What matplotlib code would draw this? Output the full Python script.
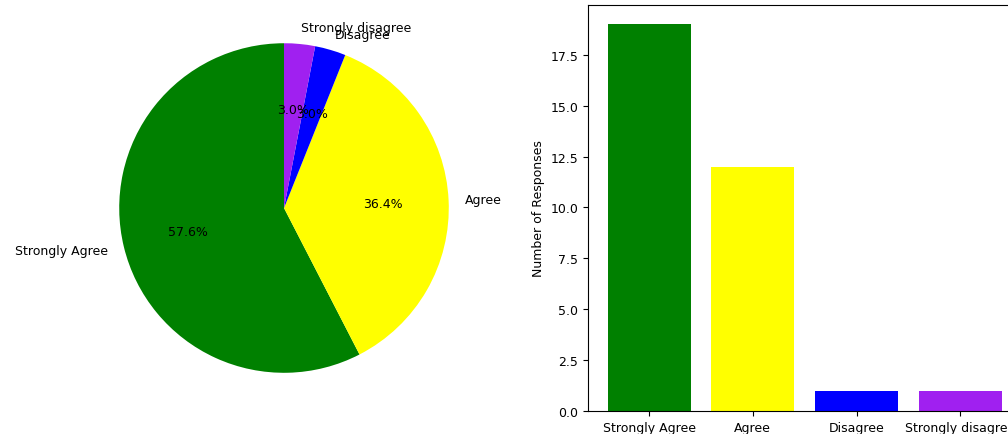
import matplotlib.pyplot as plt

labels = ['Strongly Agree', 'Agree', 'Disagree', 'Strongly disagree']
counts = [19, 12, 1, 1]
colors = ['green', 'yellow', 'blue', '#a020f0']

plt.rcParams['font.size'] = 9

fig = plt.figure(figsize=(10.08, 4.35), dpi=100)

# pie on the left
ax1 = fig.add_axes([0.0774, 0.046, 0.4087, 0.947])
ax1.pie(counts, labels=labels, colors=colors, autopct='%1.1f%%', startangle=90)
ax1.set_aspect('equal')

# bar chart on the right (runs past the right edge, as in the source)
ax2 = fig.add_axes([0.5833, 0.0529, 0.4300, 0.9333])
ax2.bar(labels, counts, color=colors)
ax2.set_ylabel('Number of Responses')

fig.savefig('out.png', dpi=100)
